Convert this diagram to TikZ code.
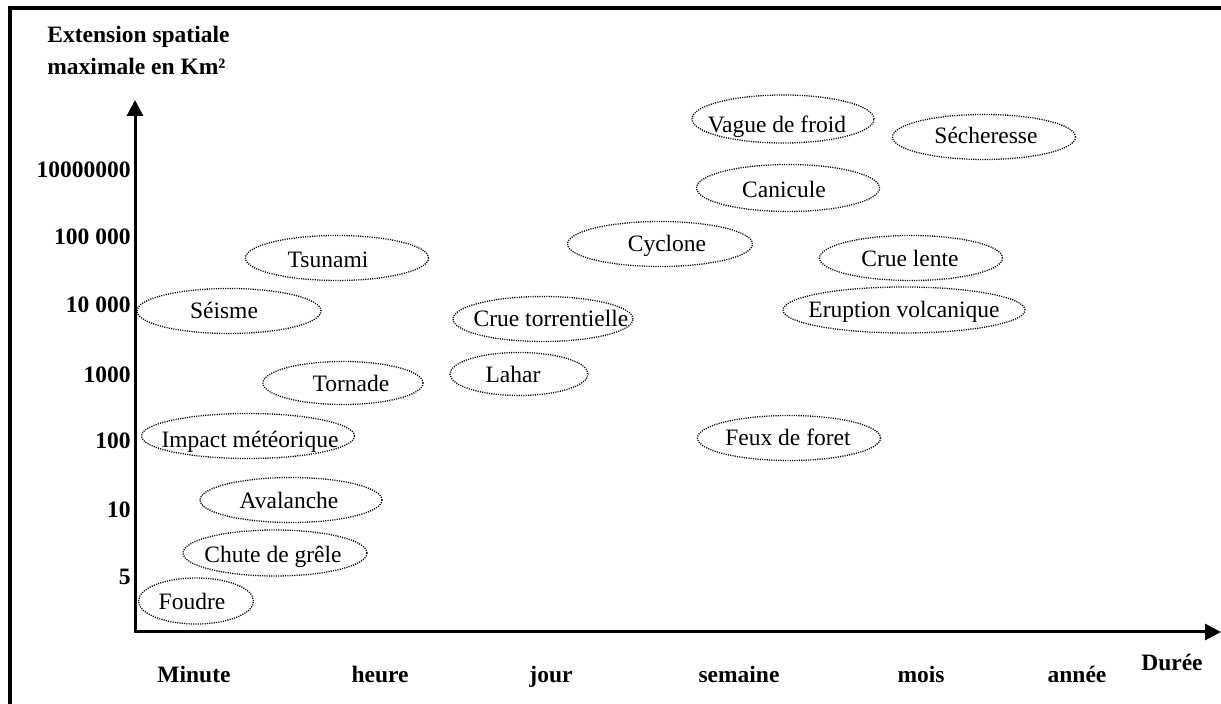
\documentclass[tikz,border=0pt]{standalone}
\usepackage{fontspec}
\setmainfont{Liberation Serif}
\usetikzlibrary{shapes.geometric,arrows.meta}
\begin{document}
\begin{tikzpicture}[x=0.5pt,y=-0.5pt,
  font=\fontsize{11.75}{14}\selectfont,
  ev/.style={draw, ellipse, line width=0.65pt, dash pattern=on 0.55pt off 0.6pt, inner sep=0pt},
  lbl/.style={anchor=base, inner sep=0pt},
  axlbl/.style={anchor=base, inner sep=0pt, font=\fontsize{11.75}{14}\selectfont\bfseries},
  ylbl/.style={anchor=base east, inner sep=0pt, font=\fontsize{11.75}{14}\selectfont\bfseries},
  axis/.style={line width=1.5pt, -{Triangle[length=8pt,width=8pt]}},
  frame/.style={line width=2pt}]
\useasboundingbox (0,0) rectangle (1221,704);
% frame
\coordinate (FL) at (10,704);
\coordinate (FC) at (10,8);
\coordinate (FR) at (1221,8);
\draw[frame] (FL) -- (FC) -- (FR);
% axes
\coordinate (O) at (135,632);
\coordinate (ytip) at (135,100);
\coordinate (xtip) at (1221,632);
\draw[axis] (O) -- (ytip);
\draw[axis] ([xshift=-0.75pt]O) -- (xtip);
% title
\node[anchor=base west, inner sep=0pt, font=\fontsize{11.75}{14}\selectfont\bfseries] (t1) at (47,43) {Extension spatiale};
\node[anchor=base west, inner sep=0pt, font=\fontsize{11.75}{14}\selectfont\bfseries] (t2) at (47,75) {maximale en Km²};
% y labels
\node[ylbl] (y1) at (131,178) {10000000};
\node[ylbl] (y2) at (131,245) {100 000};
\node[ylbl] (y3) at (131,313) {10 000};
\node[ylbl] (y4) at (131,383) {1000};
\node[ylbl] (y5) at (131,449) {100};
\node[ylbl] (y6) at (131,518) {10};
\node[ylbl] (y7) at (131,585) {5};
% x labels
\node[axlbl] (x1) at (194,683) {Minute};
\node[axlbl] (x2) at (380,683) {heure};
\node[axlbl] (x3) at (551,683) {jour};
\node[axlbl] (x4) at (739,683) {semaine};
\node[axlbl] (x5) at (921,683) {mois};
\node[axlbl] (x6) at (1077,683) {année};
\node[axlbl] (x7) at (1172,671) {Durée};
% events: ellipse + label
\node[ev, minimum width=91.5pt, minimum height=22.5pt] (eTsu) at (337,258) {};
\node[lbl] (tTsu) at (328,268) {Tsunami};
\node[ev, minimum width=92pt, minimum height=22.5pt] (eSei) at (229,311) {};
\node[lbl] (tSei) at (224,319) {Séisme};
\node[ev, minimum width=80pt, minimum height=21.5pt] (eTor) at (343,383) {};
\node[lbl] (tTor) at (351,392) {Tornade};
\node[ev, minimum width=106.5pt, minimum height=22.5pt] (eImp) at (248,436) {};
\node[lbl] (tImp) at (250,448) {Impact météorique};
\node[ev, minimum width=91pt, minimum height=22.5pt] (eAva) at (291,500) {};
\node[lbl] (tAva) at (289,509) {Avalanche};
\node[ev, minimum width=92pt, minimum height=23pt] (eChu) at (275,553) {};
\node[lbl] (tChu) at (273,563) {Chute de grêle};
\node[ev, minimum width=57.5pt, minimum height=23pt] (eFou) at (196,601) {};
\node[lbl] (tFou) at (192,610) {Foudre};
\node[ev, minimum width=92.5pt, minimum height=22.5pt] (eCyc) at (660,244) {};
\node[lbl] (tCyc) at (667,252) {Cyclone};
\node[ev, minimum width=90pt, minimum height=22.5pt] (eCrT) at (543,319) {};
\node[lbl] (tCrT) at (551,327) {Crue torrentielle};
\node[ev, minimum width=69pt, minimum height=21.5pt] (eLah) at (519,374) {};
\node[lbl] (tLah) at (513,383) {Lahar};
\node[ev, minimum width=91pt, minimum height=24pt] (eVag) at (783,119) {};
\node[lbl] (tVag) at (777,133) {Vague de froid};
\node[ev, minimum width=91.5pt, minimum height=22.5pt] (eSec) at (984,137) {};
\node[lbl] (tSec) at (986,144) {Sécheresse};
\node[ev, minimum width=91.5pt, minimum height=23.5pt] (eCan) at (788,188) {};
\node[lbl] (tCan) at (784,198) {Canicule};
\node[ev, minimum width=91.5pt, minimum height=22.5pt] (eCrL) at (911,258) {};
\node[lbl] (tCrL) at (910,267) {Crue lente};
\node[ev, minimum width=121pt, minimum height=23pt] (eEru) at (904,310) {};
\node[lbl] (tEru) at (904,318) {Eruption volcanique};
\node[ev, minimum width=91.5pt, minimum height=22.5pt] (eFeu) at (789,438) {};
\node[lbl] (tFeu) at (788,446) {Feux de foret};
\end{tikzpicture}
\end{document}
